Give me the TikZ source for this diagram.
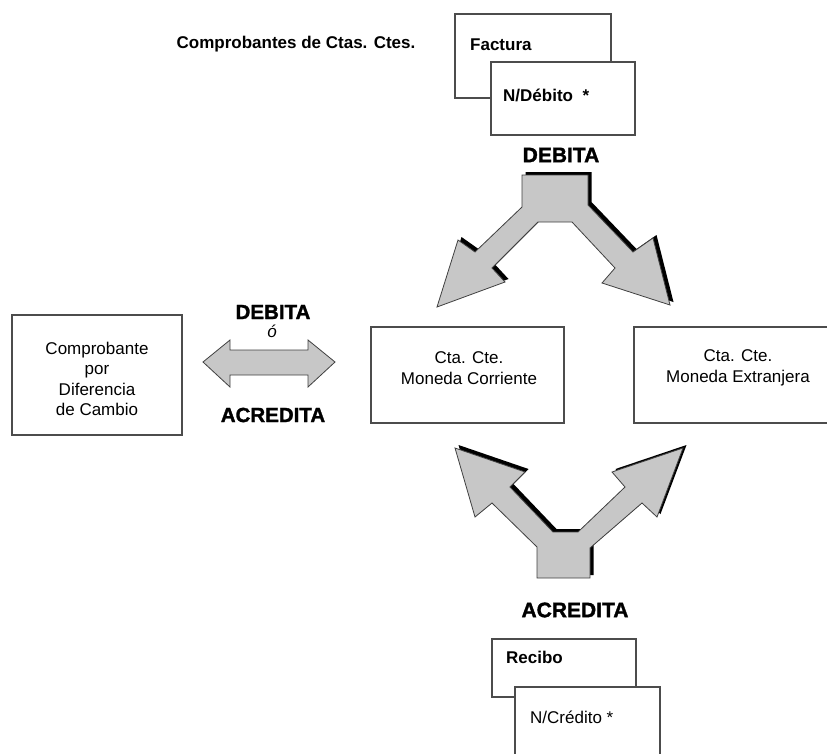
\documentclass[tikz,border=0pt]{standalone}
\usepackage{fontspec}
\setmainfont{Liberation Sans}
\newfontfamily\heavy[FakeBold=1.6]{Liberation Sans Bold}
\begin{document}
\begin{tikzpicture}[x=1pt,y=-1pt,
  box/.style={draw=black!70,line width=1.3pt,fill=white,inner sep=0pt},
  txt/.style={font=\fontsize{17}{20.5}\selectfont,align=center,inner sep=0pt},
  btxt/.style={font=\fontsize{17}{20}\selectfont\bfseries,inner sep=0pt,anchor=west},
  big/.style={font=\fontsize{21}{24}\selectfont\heavy,inner sep=0pt},
  arrowfill/.style={fill=black!22,draw=black!75,line width=0.8pt,line join=miter},
  shadowfill/.style={fill=black}]
\useasboundingbox (0,0) rectangle (827,753);
\clip (0,0) rectangle (827,753);

% top documents
\node[btxt,anchor=center] (ctas) at (296,44) {Comprobantes de Ctas. Ctes.};
\node[box,minimum width=156pt,minimum height=84pt] (fact) at (533,56) {};
\node[btxt] (facttxt) at (470,45) {Factura};
\node[box,minimum width=144pt,minimum height=73pt] (ndeb) at (563,98.5) {};
\node[btxt] (ndebtxt) at (503,95) {N/Débito\ \ *};
\node[big] (debtop) at (561,155) {DEBITA};

% top split arrow
\def\toparrow{(522,175) -- (588,175) -- (588,205) -- (633,252) -- (653,238) -- (670,305) -- (602,283) -- (615,268) -- (572,222) -- (538,222) -- (492,268) -- (505,282) -- (437,307) -- (458,240) -- (475,252) -- (522,207) -- cycle}
\fill[shadowfill,shift={(3.5,-3)}] \toparrow;
\path[arrowfill] \toparrow;

% boxes in the middle
\node[box,minimum width=170pt,minimum height=120pt] (dif) at (97,375) {};
\node[txt] (diftxt) at (97,379) {Comprobante\\por\\Diferencia\\de Cambio};
\node[box,minimum width=193pt,minimum height=96pt] (mc) at (467.5,375) {};
\node[txt] (mctxt) at (469,368) {Cta. Cte.\\Moneda Corriente};
\node[box,minimum width=208pt,minimum height=96pt] (me) at (738,375) {};
\node[txt] (metxt) at (738,368) {Cta. Cte.\\Moneda Extranjera};

% double arrow
\node[big,font=\fontsize{20.5}{24}\selectfont\heavy] (debl) at (273,312) {DEBITA};
\node[inner sep=0pt,font=\fontsize{17}{18}\selectfont\itshape] (o) at (272,331) {ó};
\node[big,font=\fontsize{20.5}{24}\selectfont\heavy] (acl) at (273,415) {ACREDITA};
\path[arrowfill] (203,362) -- (230,340) -- (230,350) -- (308,350) -- (308,340) -- (335,362) -- (308,387) -- (308,375) -- (230,375) -- (230,387) -- cycle;

% bottom split arrow
\def\botarrow{(455,448) -- (525,472) -- (510,487) -- (553,532) -- (578,532) -- (625,487) -- (612,472) -- (683,448) -- (657,517) -- (642,503) -- (590,548) -- (590,578) -- (537,578) -- (537,547) -- (492,503) -- (475,517) -- cycle}
\fill[shadowfill,shift={(3.5,-3)}] \botarrow;
\path[arrowfill] \botarrow;

% bottom documents
\node[big] (acbot) at (575,610) {ACREDITA};
\node[box,minimum width=144pt,minimum height=58pt] (rec) at (564,668) {};
\node[btxt] (rectxt) at (506,657) {Recibo};
\node[box,minimum width=145pt,minimum height=90pt] (ncred) at (587.5,732) {};
\node[btxt,font=\fontsize{17}{20}\selectfont] (ncredtxt) at (530,717) {N/Crédito *};
\end{tikzpicture}
\end{document}
